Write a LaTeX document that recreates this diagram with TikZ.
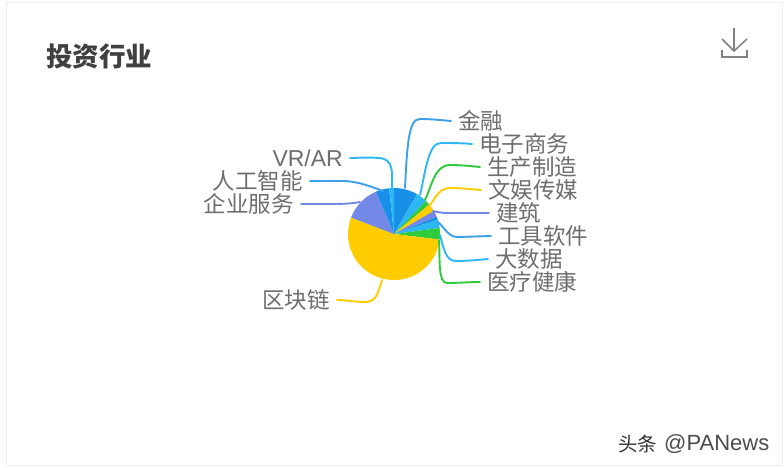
\documentclass[tikz,border=0pt]{standalone}
\usepackage{fontspec}
\setmainfont{Noto Sans CJK SC}
\newfontfamily\wmfont{Liberation Sans}
\definecolor{cblue}{HTML}{1890E8}
\definecolor{csky}{HTML}{2DB7F5}
\definecolor{cgreen}{HTML}{2FCB3C}
\definecolor{cyellow}{HTML}{FFCC00}
\definecolor{cpurple}{HTML}{7289E8}
\definecolor{cborder}{HTML}{EEEEEE}
\definecolor{ctext}{HTML}{6E6E6E}
\tikzset{
	lbl/.style={text=ctext, inner xsep=7pt, inner ysep=0pt, font=\fontsize{22.5}{24}\selectfont},
	conn/.style={line width=1.9pt, line cap=round},
}
\begin{document}
\begin{tikzpicture}[x=1pt,y=-1pt]
		\useasboundingbox (0,0) rectangle (784,468);
		\fill[white] (0,0) rectangle (784,468);
		\draw[cborder, line width=1pt] (6,3) rectangle (782,465);
		\node[anchor=west, inner sep=0pt, text=black!75, font=\fontsize{26.5}{28}\selectfont\bfseries] (title) at (46,56){投资行业};
		% pie
		\coordinate (c) at (394,234);
		\foreach \a/\b/\col in {-90/-60/cblue, -60/-46/csky, -46/-40/cgreen, -40/-30/cyellow, -30/-22/cpurple, -22/-18/cblue, -18/-7.5/csky, -7.5/7/cgreen, 7/201/cyellow, 201/247/cpurple, 247/264/cblue, 264/270/csky}
		\fill[\col] (c) -- ++(\a:46) arc[start angle=\a, end angle=\b, radius=46] -- cycle;
		% labels right
		\node[lbl, anchor=west] (jinrong) at (451,121){金融};
		\node[lbl, anchor=west] (dianzi) at (472,144){电子商务};
		\node[lbl, anchor=west] (shengchan) at (480,167){生产制造};
		\node[lbl, anchor=west] (wenyu) at (481,190){文娱传媒};
		\node[lbl, anchor=west] (jianzhu) at (489,213){建筑};
		\node[lbl, anchor=west] (gongju) at (491,236){工具软件};
		\node[lbl, anchor=west] (dashuju) at (488,259){大数据};
		\node[lbl, anchor=west] (yiliao) at (480,282){医疗健康};
		% labels left
		\node[lbl, anchor=east, font=\wmfont\fontsize{23}{24}\selectfont] (vrar) at (350,158){VR/AR};
		\node[lbl, anchor=east] (rengong) at (310,181){人工智能};
		\node[lbl, anchor=east] (qiye) at (301,204){企业服务};
		\node[lbl, anchor=east] (qukuai) at (337,300){区块链};
		% connector ends on the pie
		\coordinate (jinrongpt) at (405,188);
		\coordinate (dianzipt) at (420,195);
		\coordinate (shengchanpt) at (425,200);
		\coordinate (wenyupt) at (428,207);
		\coordinate (jianzhupt) at (433,211);
		\coordinate (gongjupt) at (438,222);
		\coordinate (dashujupt) at (440,235);
		\coordinate (yiliaopt) at (439,240);
		\coordinate (vrarpt) at (392,190);
		\coordinate (rengongpt) at (383,191);
		\coordinate (qiyept) at (360,202);
		\coordinate (qukuaipt) at (382,280);
		\draw[conn, cblue!85!white] (jinrongpt) .. controls (407,150) and (408,118) .. (420,119) .. controls (430,119) and (440,120) .. (jinrong.west);
		\draw[conn, csky] (dianzipt) .. controls (425,175) and (428,142) .. (441,143) .. controls (450,143) and (462,143) .. (dianzi.west);
		\draw[conn, cgreen] (shengchanpt) .. controls (432,185) and (435,165) .. (450,165) .. controls (460,165) and (470,166) .. (shengchan.west);
		\draw[conn, cyellow] (wenyupt) .. controls (435,200) and (438,188) .. (450,188) .. controls (460,188) and (470,189) .. (wenyu.west);
		\draw[conn, cpurple] (jianzhupt) .. controls (440,213) and (445,213) .. (455,213) -- (jianzhu.west);
		\draw[conn, cblue!85!white] (gongjupt) .. controls (445,228) and (448,237) .. (458,237) -- (gongju.west);
		\draw[conn, csky] (dashujupt) .. controls (444,250) and (446,261) .. (456,261) .. controls (465,261) and (478,260) .. (dashuju.west);
		\draw[conn, cgreen] (yiliaopt) .. controls (440,260) and (438,283) .. (447,283) .. controls (458,283) and (470,282) .. (yiliao.west);
		\draw[conn, csky] (vrarpt) .. controls (392,175) and (395,158) .. (378,158) .. controls (368,157) and (358,158) .. (vrar.east);
		\draw[conn, cblue!85!white] (rengongpt) .. controls (372,187) and (360,182) .. (345,181) -- (rengong.east);
		\draw[conn, cpurple] (qiyept) .. controls (350,204) and (340,204) .. (325,204) -- (qiye.east);
		\draw[conn, cyellow] (qukuaipt) .. controls (378,292) and (377,302) .. (365,302) .. controls (355,302) and (345,300) .. (qukuai.east);
		% download icon
		\coordinate (shafttop) at (734,28);
		\coordinate (shaftend) at (734,51);
		\draw[black!50, line width=1.5pt] (shafttop) -- (shaftend);
		\draw[black!50, line width=1.5pt] (722,39) -- (shaftend) -- (747,39);
		\draw[black!50, line width=1.5pt] (722,50) -- (722,57) -- (747,57) -- (747,50);
		% watermark
		\node[anchor=west, inner sep=0pt, text=black!80, font=\fontsize{19.5}{21}\selectfont] (wmcn) at (618,444){头条};
		\node[anchor=west, inner sep=0pt, text=black!70, font=\wmfont\fontsize{22}{23}\selectfont] (wmen) at (664,444){@PANews};
	\end{tikzpicture}
\end{document}
